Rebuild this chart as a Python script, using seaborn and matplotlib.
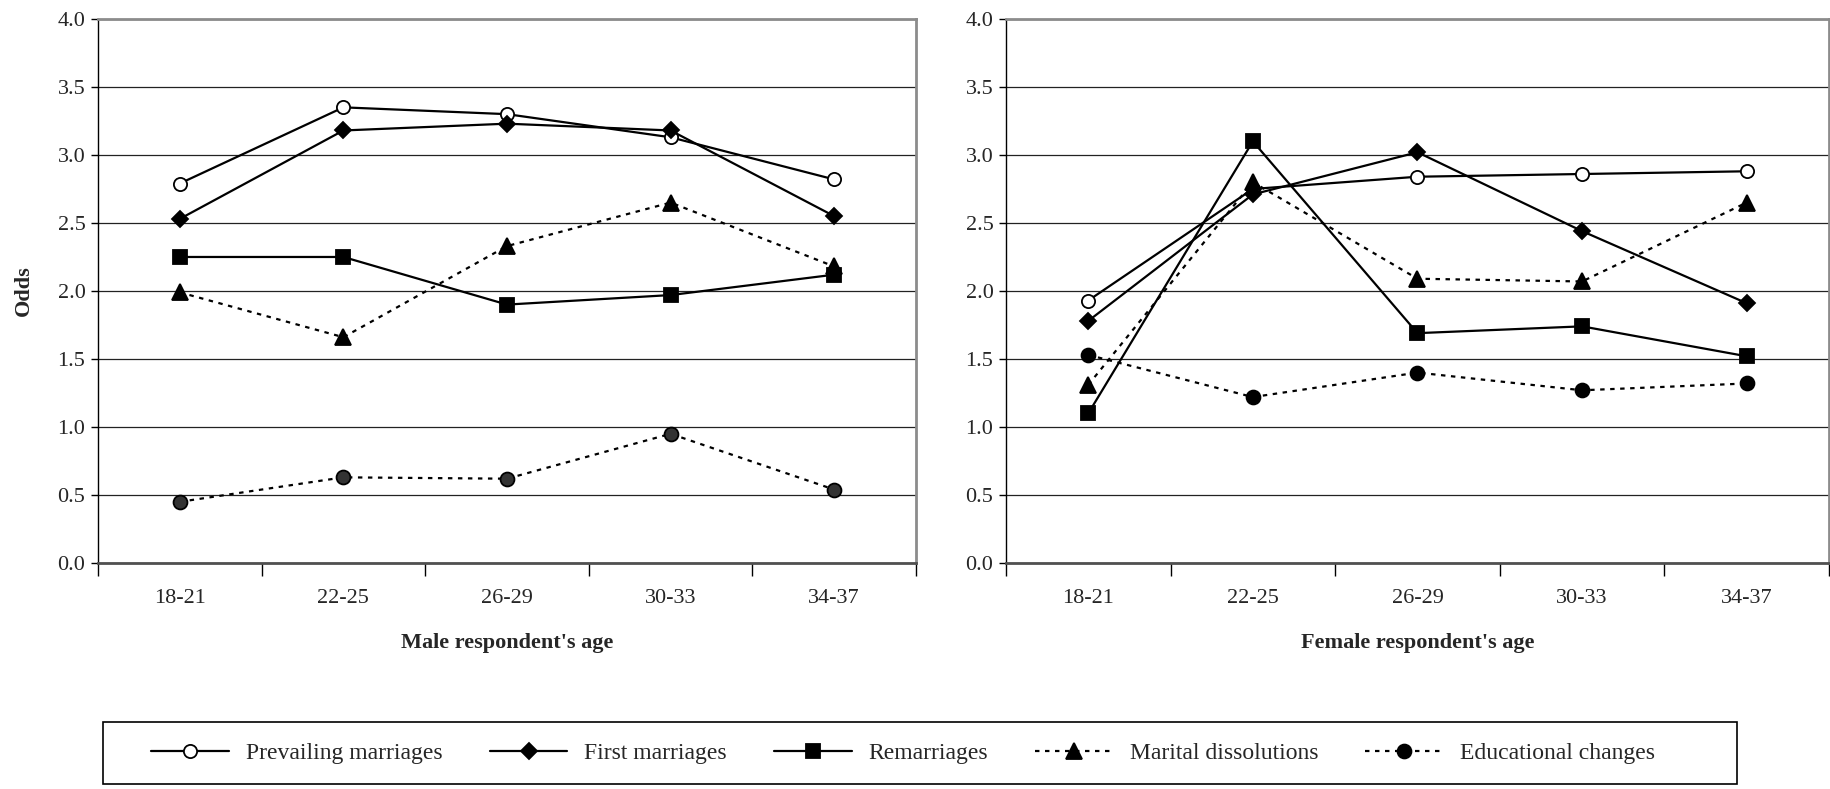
import matplotlib
matplotlib.use("Agg")
import numpy as np
import pandas as pd
import seaborn as sns
import matplotlib.pyplot as plt
from matplotlib.patches import Rectangle
from matplotlib.ticker import FormatStrFormatter, NullFormatter

# values
ages = ["18-21", "22-25", "26-29", "30-33", "34-37"]
series_names = ["Prevailing marriages", "First marriages", "Remarriages",
                "Marital dissolutions", "Educational changes"]

male_prevailing = [2.79, 3.35, 3.30, 3.13, 2.82]
male_first = [2.53, 3.18, 3.23, 3.18, 2.55]
male_remarriage = [2.25, 2.25, 1.90, 1.97, 2.12]
male_dissolution = [1.99, 1.66, 2.33, 2.65, 2.18]
male_education = [0.45, 0.63, 0.62, 0.95, 0.54]

female_prevailing = [1.93, 2.75, 2.84, 2.86, 2.88]
female_first = [1.78, 2.71, 3.02, 2.44, 1.91]
female_remarriage = [1.10, 3.10, 1.69, 1.74, 1.52]
female_dissolution = [1.31, 2.80, 2.09, 2.07, 2.65]
female_education = [1.53, 1.22, 1.40, 1.27, 1.32]

panels = {
    "Male respondent's age": [male_prevailing, male_first, male_remarriage,
                              male_dissolution, male_education],
    "Female respondent's age": [female_prevailing, female_first, female_remarriage,
                                female_dissolution, female_education],
}

rows = []
for panel, vals in panels.items():
    for name, series in zip(series_names, vals):
        for age, v in zip(ages, series):
            rows.append({"panel": panel, "series": name, "age": age, "odds": v})
df = pd.DataFrame(rows)
df["pos"] = df["age"].map(ages.index)

styles = {
    "Prevailing marriages": dict(marker="o", markersize=9.5, markerfacecolor="white", linestyle="-"),
    "First marriages": dict(marker="D", markersize=8, markerfacecolor="black", linestyle="-"),
    "Remarriages": dict(marker="s", markersize=10, markerfacecolor="black", linestyle="-"),
    "Marital dissolutions": dict(marker="^", markersize=11, markerfacecolor="black", linestyle=(0, (2, 2.5))),
    "Educational changes": dict(marker="o", markersize=10, markerfacecolor="black", linestyle=(0, (2, 2.5))),
}

sns.set_style("white")
plt.rcParams["font.family"] = ["Liberation Serif", "DejaVu Serif"]

fig = plt.figure(figsize=(18.31, 7.89), dpi=100)
ax_l = fig.add_axes([0.0535, 0.2864, 0.4468, 0.6896])
ax_r = fig.add_axes([0.5494, 0.2864, 0.4495, 0.6896])

for ax, panel in zip([ax_l, ax_r], panels):
    sub = df[df["panel"] == panel]
    ax.yaxis.grid(True, color="#222222", linewidth=0.9)
    ax.set_axisbelow(True)
    for name in series_names:
        d = sub[sub["series"] == name]
        st = dict(styles[name])
        if ax is ax_l and name == "Educational changes":
            st["markerfacecolor"] = "#333333"
        sns.lineplot(data=d, x="pos", y="odds", ax=ax, color="black", linewidth=1.6,
                     markeredgecolor="black", markeredgewidth=1.3, sort=False,
                     label=name, legend=False, **st)
    ax.set_xlim(-0.5, 4.5)
    ax.set_ylim(0, 4.0)
    ax.set_yticks(np.arange(0, 4.01, 0.5))
    ax.yaxis.set_major_formatter(FormatStrFormatter("%.1f"))
    ax.set_xticks(np.arange(-0.5, 4.6, 1.0))
    ax.xaxis.set_major_formatter(NullFormatter())
    ax.set_xticks(range(len(ages)), ages, minor=True)
    ax.tick_params(axis="x", which="major", direction="out", length=9, width=1, color="black", bottom=True)
    ax.tick_params(axis="x", which="minor", length=0, pad=19, labelsize=16)
    ax.tick_params(axis="y", direction="out", length=5, width=1, color="black", left=True, pad=4, labelsize=16)
    ax.set_xlabel(panel, fontsize=16, fontweight="bold", labelpad=18)
    ax.set_ylabel("")
    for side in ["top", "right"]:
        ax.spines[side].set_color("#8c8c8c")
        ax.spines[side].set_linewidth(2)
    ax.spines["left"].set_color("black")
    ax.spines["left"].set_linewidth(1)
    ax.spines["bottom"].set_color("#505050")
    ax.spines["bottom"].set_linewidth(2)

ax_l.set_ylabel("Odds", fontsize=16, fontweight="bold", labelpad=17)

# legend in a wide box under both panels
handles, labels = ax_r.get_legend_handles_labels()
fig.patches.append(Rectangle((0.0563, 0.006), 0.8924, 0.079, transform=fig.transFigure,
                             fill=False, edgecolor="black", linewidth=1.2))
fig.legend(handles, labels, loc="center left", bbox_to_anchor=(0.071, 0.045), ncol=5,
           frameon=False, fontsize=17, handlelength=3.3, columnspacing=2.0,
           handletextpad=0.7)

fig.savefig("out.png", dpi=100)
